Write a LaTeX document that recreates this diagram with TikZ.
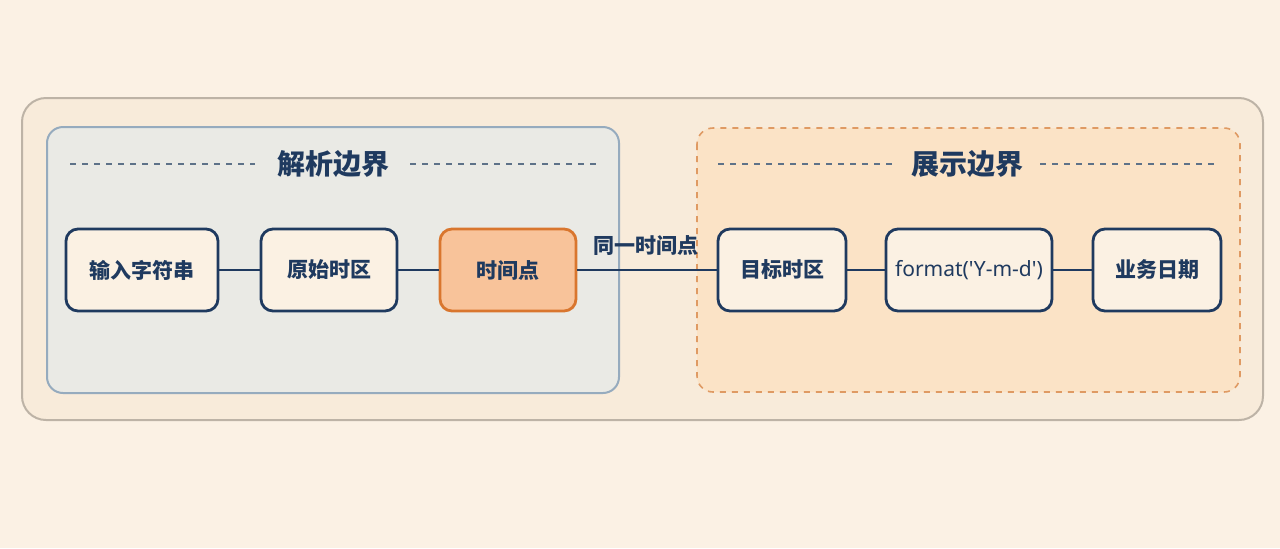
\documentclass[tikz,border=0pt]{standalone}
\usepackage{fontspec}
\setmainfont{Noto Sans CJK SC}
\newfontfamily\latinf{Noto Sans}
\begin{document}
\begin{tikzpicture}[x=0.5pt,y=-0.5pt,
  box/.style={draw=navyc,line width=1.4pt,rounded corners=6pt,fill=boxf,minimum height=41pt,font=\fontsize{10.5}{12}\selectfont\bfseries,text=navyc},
  conn/.style={draw=navyc,line width=1.3pt},
  ttl/.style={font=\fontsize{14}{16}\selectfont\bfseries,text=navyc},
  dl/.style={draw=dashc,dashed,line width=0.6pt}]
\definecolor{navyc}{HTML}{1F3A5F}
\definecolor{bg}{HTML}{FBF1E4}
\definecolor{outerf}{HTML}{F8EBDA}
\definecolor{outerd}{HTML}{BDB3A6}
\definecolor{leftf}{HTML}{EAEAE5}
\definecolor{leftd}{HTML}{96ABBE}
\definecolor{rightf}{HTML}{FBE3C6}
\definecolor{rightd}{HTML}{DF9A63}
\definecolor{boxf}{HTML}{FBF1E3}
\definecolor{orf}{HTML}{F8C39A}
\definecolor{ord}{HTML}{D9762E}
\definecolor{dashc}{HTML}{5E7288}
\fill[bg] (0,0) rectangle (1280,548);
\useasboundingbox (0,0) rectangle (1280,548);
\draw[draw=outerd,fill=outerf,line width=1pt,rounded corners=12pt] (22,98) rectangle (1263,420);
\draw[draw=leftd,fill=leftf,line width=1pt,rounded corners=8pt] (47,127) rectangle (619,393);
\draw[draw=rightd,fill=rightf,line width=0.8pt,dashed,rounded corners=8pt] (697,128) rectangle (1240,392);
\node[ttl] (t1) at (333,164) {解析边界};
\draw[dl] (70,164) -- (255,164);
\draw[dl] (410,164) -- (597,164);
\node[ttl] (t2) at (967,164) {展示边界};
\draw[dl] (718,164) -- (893,164);
\draw[dl] (1040,164) -- (1218,164);
\node[box,minimum width=76pt] (a) at (142,270) {输入字符串};
\node[box,minimum width=68pt] (b) at (329,270) {原始时区};
\node[box,minimum width=68pt,fill=orf,draw=ord] (c) at (508,270) {时间点};
\node[box,minimum width=64pt] (d) at (782,270) {目标时区};
\node[box,minimum width=83pt,text width=78pt,align=center,inner sep=2pt] (e) at (969,270) {\latinf\mdseries format('Y-m-d')};
\node[box,minimum width=64pt] (f) at (1157,270) {业务日期};
\draw[conn] (a) -- (b);
\draw[conn] (b) -- (c);
\draw[conn] (c) -- (d);
\draw[conn] (d) -- (e);
\draw[conn] (e) -- (f);
\node[font=\fontsize{10.5}{12}\selectfont\bfseries,text=navyc] (lbl) at (646,246) {同一时间点};
\end{tikzpicture}
\end{document}
